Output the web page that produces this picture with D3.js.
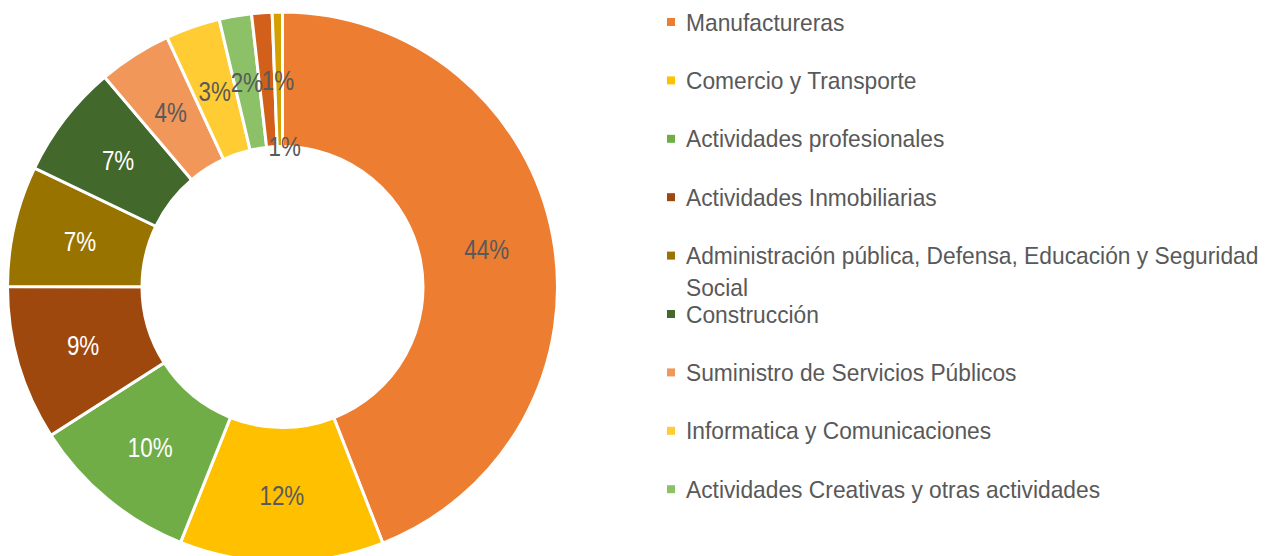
<!DOCTYPE html>
<html>
<head>
<meta charset="utf-8">
<script src="https://cdn.jsdelivr.net/npm/d3@7"></script>
<style>
  body { margin: 0; background: #fff; }
  text { font-family: "Liberation Sans", Arial, sans-serif; }
</style>
</head>
<body>
<div id="chart"></div>
<script>
// sectors, clockwise from 12 o'clock
var sectors = ["Manufactureras", "Comercio y Transporte", "Actividades profesionales",
  "Actividades Inmobiliarias", "Administración pública, Defensa, Educación y Seguridad Social",
  "Construcción", "Suministro de Servicios Públicos", "Informatica y Comunicaciones",
  "Actividades Creativas y otras actividades", "Actividades Financieras", "Agricultura"];
var shares = [44.1, 12.0, 9.9, 9.1, 7.1, 6.7, 4.3, 3.2, 1.9, 1.2, 0.6];
var labels = ["44%", "12%", "10%", "9%", "7%", "7%", "4%", "3%", "2%", "1%", "1%"];
var colors = ["#ED7D31", "#FFC000", "#70AD47", "#9E480E", "#997300", "#43682B",
  "#F1975A", "#FFCD33", "#8CC168", "#D2601A", "#D4A000"];
// only the first 9 show in the legend (the rest is cut off)
var legendCount = 9;

var w = 1277;
var h = 556;
var cx = 282.5, cy = 287;
var outerR = 275, innerR = 140.5;

var svg = d3.select("#chart")
            .append("svg")
            .attr("width", w)
            .attr("height", h);

var data = sectors.map((s, i) => ({ name: s, value: shares[i], label: labels[i], color: colors[i] }));

var pie = d3.pie().sort(null).value((d) => d.value);
var arc = d3.arc().innerRadius(innerR).outerRadius(outerR);
var arcs = pie(data);

var g = svg.append("g").attr("transform", "translate(" + cx + "," + cy + ")");

g.selectAll(".slice")
  .data(arcs)
  .enter()
  .append("path")
  .attr("class", "slice")
  .attr("d", arc)
  .attr("fill", (d) => d.data.color)
  .attr("stroke", "#fff")
  .attr("stroke-width", 3);

// labels: mid ring, with the excel-style nudges for the tiny slices
// (narrow font faked with a horizontal squeeze)
var midR = (innerR + outerR) / 2;
var darkSlices = ["#9E480E", "#997300", "#43682B", "#70AD47"];
g.selectAll(".lbl")
  .data(arcs)
  .enter()
  .append("text")
  .attr("class", "lbl")
  .attr("transform", (d, i) => {
    var a = (d.startAngle + d.endAngle) / 2;
    var r = midR;
    var dx = 0;
    if (i === 9) dx = 11;
    if (i === 10) { r = 141; a = 0.015; }
    return "translate(" + (r * Math.sin(a) + dx) + "," + (-r * Math.cos(a)) + ") scale(0.8,1)";
  })
  .attr("text-anchor", "middle")
  .attr("dy", "0.36em")
  .style("font-size", "28px")
  .attr("fill", (d) => darkSlices.indexOf(d.data.color) >= 0 ? "#fff" : "#595959")
  .text((d) => d.data.label);

// LEGEND
var legend = svg.append("g").attr("transform", "translate(667, 0)");
var rowY = d3.scaleLinear().domain([0, 1]).range([22, 80.4]);
var items = legend.selectAll(".item")
  .data(data.slice(0, legendCount))
  .enter()
  .append("g")
  .attr("class", "item")
  .attr("transform", (d, i) => "translate(0," + rowY(i) + ")");

items.append("rect")
  .attr("x", 0)
  .attr("y", -4)
  .attr("width", 8)
  .attr("height", 8)
  .attr("fill", (d) => d.color);

var sx = 0.95;
var maxW = 592 / sx;
items.append("text")
  .attr("transform", "translate(19,0) scale(" + sx + ",1)")
  .attr("dy", "0.36em")
  .style("font-size", "24px")
  .attr("fill", "#595959")
  .each(function(d) {
    var t = d3.select(this);
    var words = d.name.split(" ");
    var line = [];
    var tspan = t.append("tspan").attr("x", 0);
    words.forEach((word) => {
      line.push(word);
      tspan.text(line.join(" "));
      if (tspan.node().getComputedTextLength() > maxW && line.length > 1) {
        line.pop();
        tspan.text(line.join(" "));
        line = [word];
        tspan = t.append("tspan").attr("x", 0).attr("dy", "32px").text(word);
      }
    });
  });
</script>
</body>
</html>
